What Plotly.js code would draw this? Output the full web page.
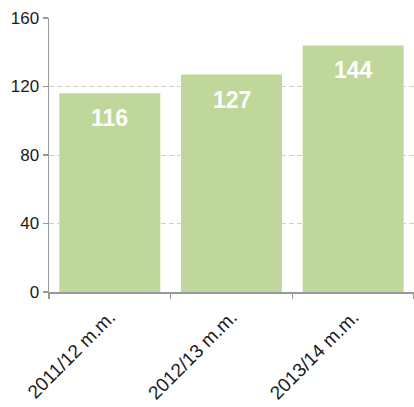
<!DOCTYPE html>
<html>
<head>
<meta charset="utf-8">
<script src="https://cdn.plot.ly/plotly-3.0.1.min.js"></script>
<style>html,body{margin:0;padding:0;background:#fff;}#chart{width:414px;height:407px;}</style>
</head>
<body>
<div id="chart"></div>
<script>
const categories = ["2011/12 m.m.", "2012/13 m.m.", "2013/14 m.m."];
const values = [116, 127, 144];
const yTicks = [0, 40, 80, 120, 160];

const barColor = "rgb(191,215,154)";

const trace = {
  type: "bar",
  x: categories,
  y: values,
  marker: {color: barColor, line: {width: 0}},
  hoverinfo: "none"
};

const annotations = categories.map((c, i) => ({
  x: c, y: values[i], xref: "x", yref: "y",
  text: String(values[i]),
  showarrow: false,
  yanchor: "top",
  yshift: -10,
  font: {family: "Liberation Sans, Arial, sans-serif", size: 23, color: "#ffffff", weight: "bold"}
}));

const layout = {
  width: 414, height: 407,
  margin: {l: 49, r: 0, t: 18, b: 115, pad: 0},
  paper_bgcolor: "#fff", plot_bgcolor: "#fff",
  font: {family: "Liberation Sans, Arial, sans-serif", size: 17, color: "#1a1a1a"},
  bargap: 0.17,
  showlegend: false,
  xaxis: {
    type: "category",
    showline: true, linecolor: "#999", linewidth: 1.5,
    ticks: "outside", ticklen: 5, tickcolor: "#999", tickwidth: 1.5,
    tickson: "boundaries",
    tickangle: -45,
    ticklabelstandoff: 5,
    tickfont: {size: 19, color: "#1a1a1a"},
    showgrid: false, zeroline: false
  },
  yaxis: {
    range: [0, 160],
    tickvals: yTicks,
    ticktext: yTicks.map(String),
    showline: true, linecolor: "#999", linewidth: 1.5,
    ticks: "outside", ticklen: 5, tickcolor: "#999", tickwidth: 1.5,
    tickfont: {size: 17, color: "#1a1a1a"},
    showgrid: true, gridcolor: "#d0d0d0", griddash: "5px,3px", gridwidth: 1,
    zeroline: false
  },
  annotations: annotations
};

Plotly.newPlot("chart", [trace], layout, {staticPlot: true, displayModeBar: false});
</script>
</body>
</html>
